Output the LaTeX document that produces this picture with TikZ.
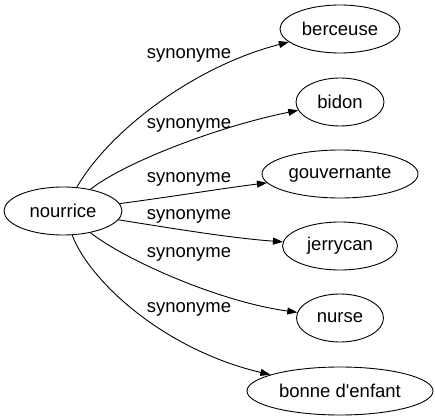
\documentclass[tikz,border=0pt]{standalone}
\usepackage{fontspec}
\setmainfont{Liberation Sans}
\usetikzlibrary{arrows.meta,shapes.geometric}
\begin{document}
\begin{tikzpicture}[x=1pt,y=-1pt,
  word/.style={draw, ellipse, line width=0.9pt, inner sep=0pt, minimum height=48pt, font=\fontsize{18.5}{22}\selectfont},
  rel/.style={draw, line width=0.9pt, -{Triangle[length=10pt,width=7pt]}},
  lab/.style={font=\fontsize{18.5}{22}\selectfont, inner sep=0pt}]
\useasboundingbox (0,0) rectangle (435,419);
\node[word, minimum width=118pt] (n) at (63,211) {nourrice};
\node[word, minimum width=120pt] (b1) at (340,29) {berceuse};
\node[word, minimum width=88pt] (b2) at (340,102) {bidon};
\node[word, minimum width=156pt] (b3) at (340,174) {gouvernante};
\node[word, minimum width=115pt] (b4) at (340,246) {jerrycan};
\node[word, minimum width=87pt] (b5) at (340,318) {nurse};
\node[word, minimum width=186pt] (b6) at (340,391) {bonne d\textquotesingle enfant};
\draw[rel] (n) .. controls (110,130) and (195,66) .. (b1);
\draw[rel] (n) .. controls (125,162) and (220,126) .. (b2);
\draw[rel] (n) .. controls (170,197) and (225,188) .. (b3);
\draw[rel] (n) .. controls (170,228) and (230,238) .. (b4);
\draw[rel] (n) .. controls (125,260) and (220,302) .. (b5);
\draw[rel] (n) .. controls (90,282) and (165,350) .. (b6);
\node[lab] (l1) at (189,55) {synonyme};
\node[lab] (l2) at (189,125) {synonyme};
\node[lab] (l3) at (189,179) {synonyme};
\node[lab] (l4) at (189,216) {synonyme};
\node[lab] (l5) at (189,254) {synonyme};
\node[lab] (l6) at (189,309) {synonyme};
\end{tikzpicture}
\end{document}
